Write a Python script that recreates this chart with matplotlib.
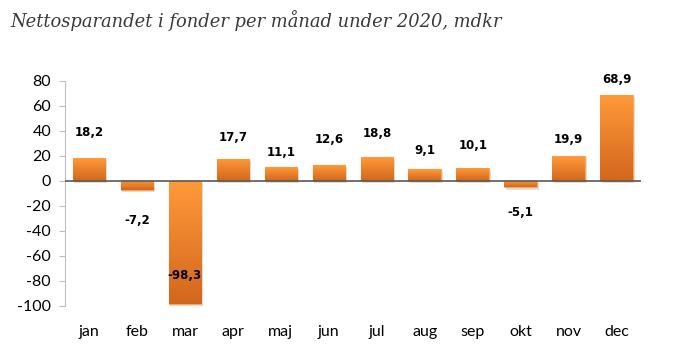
import matplotlib.pyplot as plt
import matplotlib.patheffects as pe
import numpy as np
from matplotlib.colors import LinearSegmentedColormap

# data
months = ['jan', 'feb', 'mar', 'apr', 'maj', 'jun', 'jul', 'aug', 'sep', 'okt', 'nov', 'dec']
values = [18.2, -7.2, -98.3, 17.7, 11.1, 12.6, 18.8, 9.1, 10.1, -5.1, 19.9, 68.9]
# where the value labels sit (y in data units), placed by hand in the original
label_y = [38.4, -31.5, -75.6, 34.2, 22.4, 32.6, 37.4, 23.8, 28.0, -25.6, 32.6, 81.1]
yticks = [80, 60, 40, 20, 0, -20, -40, -60, -80, -100]

fig = plt.figure(figsize=(6.81, 3.58), dpi=100)
ax = fig.add_axes([0.0954, 0.146, 0.8454, 0.6286])

x = np.arange(len(months))
bars = ax.bar(x, values, width=0.68, color='#f28a2c', edgecolor='#f9a85a', linewidth=0.8,
              zorder=2,
              path_effects=[pe.SimplePatchShadow(offset=(1.2, -1.8), shadow_rgbFace='#808080', alpha=0.25),
                            pe.Normal()])

# vertical gradient inside each bar
grad = np.linspace(0, 1, 256).reshape(-1, 1)
cmap = LinearSegmentedColormap.from_list('or', ['#ff9a3a', '#d2661c'])
for b in bars:
    x0, y0 = b.get_x(), b.get_y()
    w, h = b.get_width(), b.get_height()
    top, bot = max(y0, y0 + h), min(y0, y0 + h)
    im = ax.imshow(grad, cmap=cmap, aspect='auto', extent=(x0, x0 + w, bot, top),
                   origin='upper', zorder=2.5)
    im.set_clip_path(b)

for xi, v, ly in zip(x, values, label_y):
    ax.text(xi, ly, f'{v:.1f}'.replace('.', ','), ha='center', va='center',
            fontsize=8.5, fontweight='bold', family='DejaVu Sans', color='black', zorder=4)

ax.axhline(0, color='#595959', lw=1.2, zorder=3)

ax.set_xlim(-0.5, len(months) - 0.5)
ax.set_ylim(-100, 80)
ax.set_yticks(yticks)
ax.set_yticklabels([str(t) for t in yticks], family='Lato', fontsize=11.5)
ax.set_xticks(x)
ax.set_xticklabels(months, family='Lato', fontsize=11.5)
ax.tick_params(axis='x', length=0, pad=14)
ax.tick_params(axis='y', length=4, color='#bfbfbf', pad=6)
for s in ['top', 'right', 'bottom']:
    ax.spines[s].set_visible(False)
ax.spines['left'].set_color('#bfbfbf')

fig.text(0.015, 0.925, 'Nettosparandet i fonder per månad under 2020, mdkr',
         family='DejaVu Serif', style='italic', fontsize=12.9, color='#3a3a3a')

plt.savefig('out.png', dpi=100)
